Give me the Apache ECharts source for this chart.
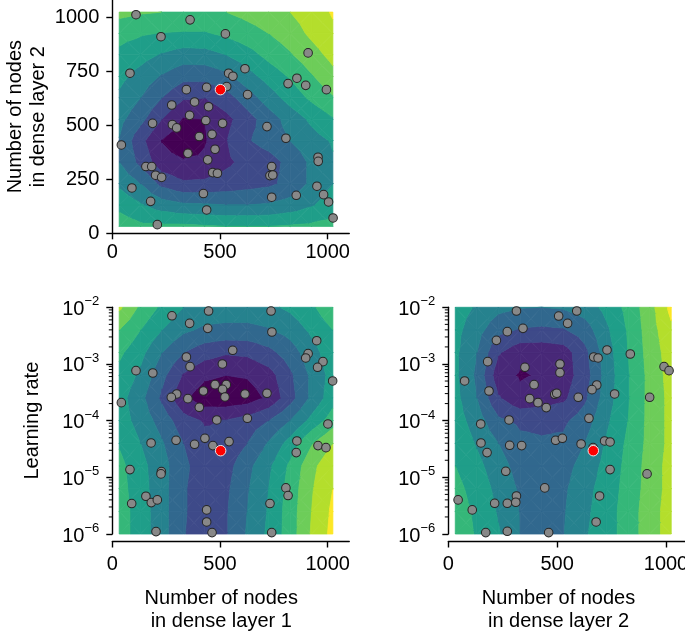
<!DOCTYPE html>
<html><head><meta charset="utf-8">
<script src="https://cdn.jsdelivr.net/npm/echarts@6/dist/echarts.min.js"></script>
<style>html,body{margin:0;padding:0;background:#fff}#c{width:685px;height:633px}</style>
</head><body><div id="c"></div>
<script>
// ---------------- data ----------------
const xTickValues = [0, 500, 1000];
const nodesTickValues = [0, 250, 500, 750, 1000];
const lrTickValues = [1e-6, 1e-5, 1e-4, 1e-3, 1e-2];
const lrMinorMultipliers = [2, 3, 4, 5, 6, 7, 8, 9];

// surface grid nodes (number of nodes) and learning-rate exponents
const nodeGrid = [32, 131, 230, 330, 429, 528, 627, 726, 826, 925, 1024];
const lrExpGrid = [-6, -5.6, -5.2, -4.8, -4.4, -4, -3.6, -3.2, -2.8, -2.4, -2];

// surface level (band index, continuous) rows from TOP to BOTTOM
const surfaceN1N2 = [
  [7.3, 7.1, 7.0, 6.9, 6.9, 7.0, 7.3, 7.6, 8.0, 8.5, 9.1],
  [6.3, 6.1, 5.95, 5.9, 5.9, 6.2, 6.6, 7.0, 7.5, 8.2, 8.8],
  [5.8, 5.4, 4.9, 4.55, 4.6, 5.0, 5.6, 6.3, 6.9, 7.6, 8.3],
  [5.3, 4.6, 3.9, 3.3, 3.3, 3.7, 4.6, 5.4, 6.1, 6.9, 7.7],
  [4.8, 4.0, 3.0, 2.1, 2.0, 2.6, 3.5, 4.5, 5.4, 6.2, 6.9],
  [4.3, 3.3, 2.0, 0.9, 1.0, 1.7, 2.6, 3.5, 4.4, 5.2, 5.9],
  [3.95, 2.3, 0.95, 0.3, 0.9, 1.95, 2.9, 3.4, 4.0, 4.6, 5.1],
  [4.0, 2.7, 1.4, 1.1, 1.2, 1.8, 2.3, 2.6, 3.3, 4.2, 4.9],
  [4.8, 4.0, 2.7, 2.15, 2.2, 2.4, 2.6, 2.8, 3.3, 4.2, 5.0],
  [5.7, 5.1, 4.5, 4.17, 4.1, 4.0, 4.0, 4.1, 4.4, 4.9, 5.5],
  [6.6, 6.2, 6.2, 6.2, 6.1, 6.0, 6.0, 6.0, 6.1, 6.2, 6.4]
];
const surfaceN1LR = [
  [8.2, 6.8, 5.8, 5.0, 4.7, 4.6, 4.6, 4.8, 5.2, 5.8, 6.8],
  [7.0, 6.0, 5.0, 4.2, 3.8, 3.7, 3.7, 3.9, 4.4, 5.2, 6.0],
  [6.2, 5.3, 4.0, 3.0, 2.4, 2.1, 2.2, 2.7, 3.5, 4.6, 5.6],
  [5.7, 4.8, 3.3, 1.9, 1.2, 1.0, 1.1, 1.6, 2.8, 4.2, 5.4],
  [5.4, 4.3, 2.8, 1.2, 0.4, 0.3, 0.5, 1.2, 2.6, 4.2, 5.6],
  [5.5, 4.6, 3.6, 2.4, 1.9, 2.05, 2.4, 3.0, 4.0, 5.3, 6.5],
  [5.9, 5.0, 4.1, 3.0, 2.3, 2.2, 3.0, 4.1, 5.4, 6.9, 8.0],
  [6.3, 5.3, 4.4, 3.2, 2.5, 2.6, 3.7, 4.8, 6.2, 7.7, 8.8],
  [6.4, 5.4, 4.4, 3.1, 2.5, 2.8, 3.9, 5.0, 6.4, 7.9, 9.0],
  [6.5, 5.5, 4.4, 3.1, 2.5, 2.9, 4.0, 5.1, 6.5, 8.0, 9.2],
  [6.5, 5.5, 4.4, 3.05, 2.5, 2.9, 4.1, 5.2, 6.5, 8.1, 9.3]
];
const surfaceN2LR = [
  [5.4, 4.9, 4.3, 4.05, 4.0, 4.1, 4.5, 5.3, 6.3, 7.6, 9.3],
  [5.3, 4.4, 3.3, 2.9, 2.8, 2.9, 3.5, 4.8, 6.1, 7.5, 8.8],
  [5.2, 4.0, 2.1, 1.3, 1.3, 1.5, 2.7, 4.5, 6.0, 7.4, 8.5],
  [5.2, 3.8, 1.4, 0.9, 1.1, 1.5, 2.5, 4.4, 5.9, 7.3, 8.4],
  [5.3, 4.0, 2.1, 1.25, 1.5, 1.8, 2.8, 4.5, 5.9, 7.3, 8.3],
  [5.5, 4.5, 3.2, 2.8, 2.8, 2.8, 3.5, 4.8, 6.0, 7.3, 8.3],
  [5.8, 4.9, 4.0, 3.25, 3.1, 3.2, 4.0, 5.1, 6.2, 7.3, 8.3],
  [6.0, 5.3, 4.4, 3.6, 3.3, 3.6, 4.4, 5.3, 6.3, 7.4, 8.4],
  [6.3, 5.6, 4.7, 3.85, 3.35, 3.8, 4.7, 5.4, 6.4, 7.4, 8.4],
  [6.5, 5.8, 4.9, 3.95, 3.4, 3.9, 4.8, 5.5, 6.5, 7.5, 8.5],
  [6.6, 5.9, 5.1, 4.0, 3.4, 3.95, 4.9, 5.5, 6.5, 7.5, 8.5]
];

// trials: [nodes layer 1, nodes layer 2]
const trialsN1N2 = [[110,1012],[361,988],[226,910],[525,923],[82,741],[540,741],[560,727],[616,762],[909,835],[816,693],[857,718],[898,685],[994,665],[344,665],[438,676],[531,679],[628,642],[276,594],[382,608],[447,586],[359,546],[434,522],[512,509],[187,509],[279,503],[299,488],[42,409],[404,448],[463,458],[718,494],[806,440],[477,389],[351,370],[443,340],[955,352],[956,333],[156,309],[183,309],[201,269],[229,259],[466,281],[488,278],[740,309],[732,267],[745,270],[91,210],[423,184],[178,148],[438,108],[209,40],[740,167],[854,176],[950,218],[981,179],[1004,145],[1025,71]];
const bestN1N2 = [[502,665]];
// trials: [nodes layer 1, log10(learning rate)]
const trialsN1LR = [[277,-2.15],[447,-2.066],[737,-2.066],[359,-2.283],[443,-2.371],[741,-2.436],[949,-2.589],[559,-2.759],[909,-2.818],[898,-2.894],[344,-2.877],[978,-2.959],[953,-3.059],[511,-3.0],[361,-3.047],[110,-3.118],[188,-3.159],[1023,-3.3],[477,-3.365],[529,-3.365],[512,-3.447],[423,-3.477],[299,-3.529],[274,-3.588],[351,-3.612],[523,-3.582],[616,-3.529],[718,-3.517],[404,-3.764],[42,-3.682],[485,-3.988],[627,-3.958],[1001,-4.058],[180,-4.394],[296,-4.347],[382,-4.417],[430,-4.311],[467,-4.44],[542,-4.37],[857,-4.358],[854,-4.564],[955,-4.44],[992,-4.476],[82,-4.864],[228,-4.9],[226,-4.94],[156,-5.334],[90,-5.463],[181,-5.446],[209,-5.398],[806,-5.187],[816,-5.322],[732,-5.463],[438,-5.575],[438,-5.787],[463,-5.975],[203,-5.958],[740,-5.975]];
const bestN1LR = [[503,-4.53]];
// trials: [nodes layer 2, log10(learning rate)]
const trialsN2LR = [[313,-2.065],[507,-2.154],[590,-2.065],[548,-2.283],[343,-2.371],[271,-2.43],[221,-2.583],[729,-2.753],[836,-2.824],[668,-2.877],[688,-2.894],[181,-2.959],[513,-3.0],[352,-3.059],[513,-3.153],[991,-3.047],[1014,-3.118],[75,-3.3],[187,-3.477],[394,-3.365],[682,-3.371],[660,-3.453],[489,-3.535],[498,-3.517],[597,-3.588],[764,-3.529],[925,-3.588],[374,-3.612],[412,-3.682],[450,-3.77],[279,-3.988],[646,-3.958],[149,-4.058],[150,-4.394],[282,-4.435],[337,-4.44],[493,-4.347],[524,-4.311],[610,-4.411],[665,-4.476],[718,-4.358],[743,-4.376],[178,-4.564],[264,-4.894],[743,-4.864],[913,-4.94],[443,-5.187],[45,-5.398],[110,-5.575],[213,-5.458],[271,-5.458],[313,-5.329],[310,-5.44],[695,-5.329],[679,-5.787],[172,-5.975],[271,-5.952],[461,-5.975]];
const bestN2LR = [[666,-4.53]];

// ---------------- style ----------------
const FONT = 'Liberation Sans, Arial, Helvetica, sans-serif';
const BAND_COLORS = ['#440154','#482878','#3E4A89','#31688E','#26828E','#1F9E89','#35B779','#6DCD59','#B4DE2C','#FDE725'];
const NB = BAND_COLORS.length;

const lrMinorTicks = [];
lrTickValues.slice(0, -1).forEach(d => lrMinorMultipliers.forEach(m => lrMinorTicks.push(m * d)));

function clipPoly(poly, level, keepAbove) {
  const out = [];
  const inside = p => keepAbove ? p[2] >= level : p[2] < level;
  for (let i = 0; i < poly.length; i++) {
    const a = poly[i], b = poly[(i + 1) % poly.length];
    const ia = inside(a), ib = inside(b);
    if (ia) out.push(a);
    if (ia !== ib) {
      const t = (level - a[2]) / (b[2] - a[2]);
      out.push([a[0] + t * (b[0] - a[0]), a[1] + t * (b[1] - a[1]), level]);
    }
  }
  return out;
}

function contourSeries(xIdx, yIdx, field, xs, ys, logY) {
  const nR = ys.length;
  const toY = v => logY ? Math.pow(10, v) : v;
  const val = (c, r) => field[nR - 1 - r][c];
  const data = [];
  for (let r = 0; r < nR - 1; r++)
    for (let c = 0; c < xs.length - 1; c++)
      data.push([xs[c], toY(ys[r]), c, r]);
  return {
    type: 'custom', xAxisIndex: xIdx, yAxisIndex: yIdx, silent: true, z: 1,
    encode: { x: 0, y: 1 }, data,
    renderItem(params, api) {
      const c = api.value(2), r = api.value(3);
      const q = [[xs[c], ys[r], val(c, r)], [xs[c + 1], ys[r], val(c + 1, r)],
                 [xs[c + 1], ys[r + 1], val(c + 1, r + 1)], [xs[c], ys[r + 1], val(c, r + 1)]];
      const ctr = [(xs[c] + xs[c + 1]) / 2, (ys[r] + ys[r + 1]) / 2, (q[0][2] + q[1][2] + q[2][2] + q[3][2]) / 4];
      const children = [];
      for (let t = 0; t < 4; t++) {
        const tri = [q[t], q[(t + 1) % 4], ctr];
        for (let k = 0; k < NB; k++) {
          let poly = tri;
          if (k > 0) poly = clipPoly(poly, k, true);
          if (poly.length >= 3 && k < NB - 1) poly = clipPoly(poly, k + 1, false);
          if (poly.length >= 3) {
            const pts = poly.map(p => api.coord([p[0], toY(p[1])]));
            children.push({ type: 'polygon', shape: { points: pts },
              style: { fill: BAND_COLORS[k], stroke: BAND_COLORS[k], lineWidth: 0.8 } });
          }
        }
      }
      return { type: 'group', children };
    }
  };
}

function scatterSeries(xIdx, yIdx, pts, logY, best) {
  const d = pts.map(p => [p[0], logY ? Math.pow(10, p[1]) : p[1]]);
  return best ? {
    type: 'scatter', xAxisIndex: xIdx, yAxisIndex: yIdx, data: d, z: 4, silent: true,
    symbolSize: 10.5, itemStyle: { color: '#ff0000', borderColor: '#e8e8e8', borderWidth: 1, opacity: 1 }
  } : {
    type: 'scatter', xAxisIndex: xIdx, yAxisIndex: yIdx, data: d, z: 3, silent: true,
    symbolSize: 8.6, itemStyle: { color: '#888888', borderColor: '#262626', borderWidth: 1, opacity: 1 }
  };
}

function minorTickSeries(xIdx, yIdx) {
  return {
    type: 'custom', xAxisIndex: xIdx, yAxisIndex: yIdx, silent: true, z: 6, clip: false,
    encode: { x: 0, y: 1 }, data: lrMinorTicks.map(v => [0, v]),
    renderItem(params, api) {
      const p = api.coord([0, api.value(1)]);
      return { type: 'line', shape: { x1: p[0] - 3.5, y1: p[1], x2: p[0], y2: p[1] },
               style: { stroke: '#000', lineWidth: 1 } };
    }
  };
}

const axisLineStyle = { show: true, onZero: false, lineStyle: { color: '#000', width: 1.4 } };
const tickStyle = { show: true, inside: false, length: 6, lineStyle: { color: '#000', width: 1.4 } };
const labelBase = { color: '#000', fontSize: 20, fontFamily: FONT, formatter: v => String(v) };
const nameStyle = { color: '#000', fontSize: 20, fontFamily: FONT, lineHeight: 23 };

function xAxis(idx, name, offset, margin) {
  return {
    gridIndex: idx, type: 'value', min: 0, max: 1100, offset: offset,
    axisLine: axisLineStyle, splitLine: { show: false },
    axisTick: Object.assign({ customValues: xTickValues }, tickStyle),
    axisLabel: Object.assign({ customValues: xTickValues, margin: margin }, labelBase),
    name: name, nameLocation: 'middle', nameGap: 45,
    nameTextStyle: Object.assign({ padding: [0, 19, 0, 0] }, nameStyle)
  };
}
function lrAxis(idx, name) {
  return {
    gridIndex: idx, type: 'log', logBase: 10, min: 1e-6, max: 1e-2,
    axisLine: axisLineStyle, splitLine: { show: false },
    axisTick: Object.assign({ customValues: lrTickValues }, tickStyle),
    axisLabel: {
      customValues: lrTickValues, margin: 13,
      formatter: v => '{b|10}{s|\u2212' + Math.abs(Math.round(Math.log10(v))) + '}',
      rich: {
        b: { fontSize: 20, fontFamily: FONT, color: '#000', lineHeight: 24, verticalAlign: 'bottom' },
        s: { fontSize: 13, fontFamily: FONT, color: '#000', lineHeight: 16, verticalAlign: 'top' }
      }
    },
    name: name, nameLocation: 'middle', nameGap: 68, nameTextStyle: nameStyle
  };
}

const W1 = 1100 * 0.2154, W3 = 1100 * 0.2177;
const option = {
  animation: false,
  backgroundColor: '#fff',
  grid: [
    { left: 112.3, top: 0, width: W1, height: 233.3, containLabel: false, outerBoundsMode: 'none' },
    { left: 112.3, top: 307.3, width: W1, height: 226.7, containLabel: false, outerBoundsMode: 'none' },
    { left: 448.3, top: 307.3, width: W3, height: 226.7, containLabel: false, outerBoundsMode: 'none' }
  ],
  xAxis: [xAxis(0, '', 0, 9), xAxis(1, 'Number of nodes\nin dense layer 1', 7.5, 13), xAxis(2, 'Number of nodes\nin dense layer 2', 7.5, 13)],
  yAxis: [
    {
      gridIndex: 0, type: 'value', min: 0, max: 1080,
      axisLine: axisLineStyle, splitLine: { show: false },
      axisTick: Object.assign({ customValues: nodesTickValues }, tickStyle),
      axisLabel: Object.assign({ customValues: nodesTickValues, margin: 13 }, labelBase),
      name: 'Number of nodes\nin dense layer 2', nameLocation: 'middle', nameGap: 62, nameTextStyle: nameStyle
    },
    lrAxis(1, 'Learning rate'),
    lrAxis(2, '')
  ],
  series: [
    contourSeries(0, 0, surfaceN1N2, nodeGrid, nodeGrid, false),
    contourSeries(1, 1, surfaceN1LR, nodeGrid, lrExpGrid, true),
    contourSeries(2, 2, surfaceN2LR, nodeGrid, lrExpGrid, true),
    scatterSeries(0, 0, trialsN1N2, false, false), scatterSeries(0, 0, bestN1N2, false, true),
    scatterSeries(1, 1, trialsN1LR, true, false), scatterSeries(1, 1, bestN1LR, true, true),
    scatterSeries(2, 2, trialsN2LR, true, false), scatterSeries(2, 2, bestN2LR, true, true),
    minorTickSeries(1, 1), minorTickSeries(2, 2)
  ]
};
const chart = echarts.init(document.getElementById('c'), null, { renderer: 'canvas' });
chart.setOption(option);
</script></body></html>
